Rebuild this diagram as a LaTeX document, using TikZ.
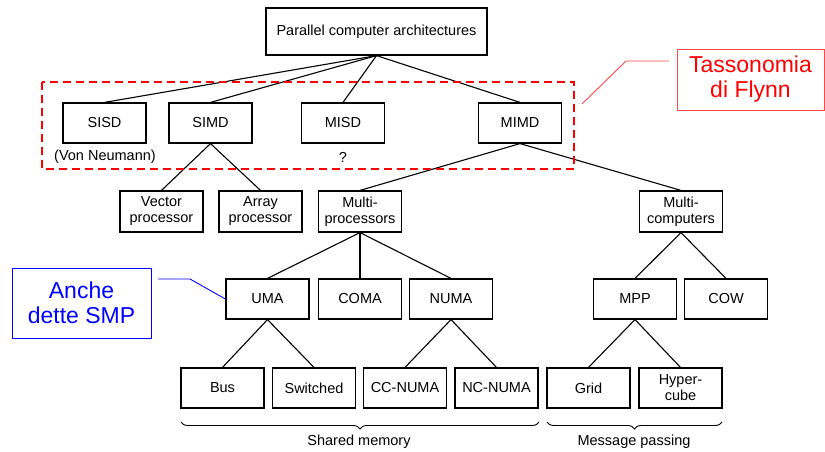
\documentclass[tikz,border=0pt]{standalone}
\usepackage{fontspec}
\setmainfont{Liberation Sans}
\usetikzlibrary{decorations.pathreplacing}
\definecolor{tassred}{RGB}{255,0,0}
\definecolor{tassline}{RGB}{255,70,70}
\definecolor{smpblue}{RGB}{0,0,255}
\begin{document}
\begin{tikzpicture}[x=1pt,y=-1pt,
  box/.style={draw=black, line width=1.2pt, minimum width=83pt, minimum height=40pt,
    inner sep=0pt, align=center, font=\fontsize{14.5}{16}\selectfont},
  conn/.style={draw=black, line width=1.1pt},
  lbl/.style={inner sep=0pt, font=\fontsize{14.5}{16}\selectfont},
  note/.style={line width=0.9pt, inner sep=0pt, align=center, font=\fontsize{23}{25}\selectfont},
  brc/.style={draw=black, line width=0.9pt, decorate, decoration={brace, mirror, amplitude=7pt}}
]
\useasboundingbox[fill=white] (0,0) rectangle (825,452);

% top
\node[box, minimum width=221pt, minimum height=47pt] (top) at (376.5,31.5) {Parallel computer architectures};

% Flynn
\node[box] (sisd) at (104.5,123) {SISD};
\node[box] (simd) at (210.5,123) {SIMD};
\node[box] (misd) at (343,123) {MISD};
\node[box] (mimd) at (520,123) {MIMD};
\node[lbl] (vonn) at (105,157) {(Von Neumann)};
\node[lbl] (qm) at (343,157) {?};

% level 3
\node[box, minimum height=41pt] (vec) at (161.5,211.5) {Vector\\processor};
\node[box, minimum height=41pt] (arr) at (260.5,211.5) {Array\\processor};
\node[box, minimum height=41pt] (mp) at (360,211.5) {Multi-\\processors};
\node[box, minimum height=41pt] (mc) at (681,211.5) {Multi-\\computers};

% level 4
\node[box] (uma) at (267.5,299) {UMA};
\node[box] (coma) at (360,299) {COMA};
\node[box] (numa) at (451,299) {NUMA};
\node[box] (mpp) at (635,299) {MPP};
\node[box] (cow) at (726,299) {COW};

% level 5
\node[box] (bus) at (222.5,388) {Bus};
\node[box] (sw) at (314,388) {Switched};
\node[box] (cc) at (405,388) {CC-NUMA};
\node[box] (nc) at (496.5,388) {NC-NUMA};
\node[box] (grid) at (588.5,388) {Grid};
\node[box] (hyp) at (680.5,388) {Hyper-\\cube};

% connectors
\foreach \c in {sisd,simd,misd,mimd} \draw[conn] (top.south) -- (\c.north);
\draw[conn] (simd.south) -- (vec.north);
\draw[conn] (simd.south) -- (arr.north);
\draw[conn] (mimd.south) -- (mp.north);
\draw[conn] (mimd.south) -- (mc.north);
\draw[conn] (mp.south) -- (uma.north);
\draw[conn] (mp.south) -- (coma.north);
\draw[conn] (mp.south) -- (numa.north);
\draw[conn] (mc.south) -- (mpp.north);
\draw[conn] (mc.south) -- (cow.north);
\draw[conn] (uma.south) -- (bus.north);
\draw[conn] (uma.south) -- (sw.north);
\draw[conn] (numa.south) -- (cc.north);
\draw[conn] (numa.south) -- (nc.north);
\draw[conn] (mpp.south) -- (grid.north);
\draw[conn] (mpp.south) -- (hyp.north);

% braces
\coordinate (sm1) at (181,422);
\coordinate (sm2) at (539,422);
\coordinate (mg1) at (547,422);
\coordinate (mg2) at (722,422);
\draw[brc] (sm1) -- (sm2);
\draw[brc] (mg1) -- (mg2);
\node[lbl] (shm) at (359,442) {Shared memory};
\node[lbl] (msg) at (634,442) {Message passing};

% Flynn dashed frame and note
\draw[tassred, line width=1.8pt, dash pattern=on 8pt off 5pt] (42,82) rectangle (574,169);
\node[note, draw=tassline, text=tassred, minimum width=147pt, minimum height=61pt] (tass) at (750.5,79.5) {Tassonomia\\di Flynn};
\coordinate (t1) at (582,104);
\coordinate (t2) at (626,61);
\coordinate (t3) at (669,61);
\draw[tassline, line width=0.9pt] (t1) -- (t2) -- (t3);

% SMP note
\node[note, draw=smpblue, text=smpblue, minimum width=139pt, minimum height=70pt] (smp) at (81.5,303) {Anche\\dette SMP};
\coordinate (s1) at (158,279);
\coordinate (s2) at (190,279);
\draw[smpblue, line width=0.9pt] (s1) -- (s2) -- (uma.west);
\end{tikzpicture}
\end{document}
